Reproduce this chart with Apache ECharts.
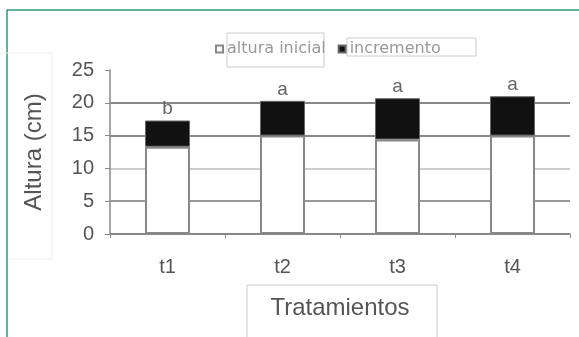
<!DOCTYPE html>
<html><head><meta charset="utf-8">
<script src="https://cdn.jsdelivr.net/npm/echarts@6/dist/echarts.min.js"></script>
<style>html,body{margin:0;padding:0;background:#fff}#c{width:579px;height:337px}</style>
</head><body><div id="c"></div>
<script>
var categories = ['t1', 't2', 't3', 't4'];
var alturaInicial = [13.3, 15.0, 14.4, 15.0];
var incremento = [4.0, 5.3, 6.3, 6.0];
var letras = ['b', 'a', 'a', 'a'];
var seriesNames = ['altura inicial', 'incremento'];
var yTicks = [0, 5, 10, 15, 20, 25];

var chart = echarts.init(document.getElementById('c'));
var font = 'Liberation Sans, Arial, sans-serif';
chart.setOption({
  animation: false,
  backgroundColor: '#fff',
  grid: { left: 110, right: 9, top: 70, bottom: 103 },
  legend: {
    left: 210, top: 36, itemWidth: 7, itemHeight: 7, itemGap: 12,
    icon: 'rect',
    textStyle: { fontFamily: 'DejaVu Sans, sans-serif', fontSize: 16, color: '#999', padding: [0,0,0,-1] },
    data: seriesNames
  },
  xAxis: {
    type: 'category', data: categories,
    axisLine: { lineStyle: { color: '#888', width: 1.5 } },
    axisTick: { show: true, length: 4, lineStyle: { color: '#888' } },
    axisLabel: { fontFamily: font, fontSize: 20, color: '#555', margin: 23 },
    name: 'Tratamientos', nameLocation: 'middle', nameGap: 62,
    nameTextStyle: { fontFamily: font, fontSize: 24, color: '#555' }
  },
  yAxis: {
    type: 'value', min: yTicks[0], max: yTicks[yTicks.length - 1], interval: 5,
    axisLine: { show: true, lineStyle: { color: '#888', width: 1.5 } },
    axisTick: { show: true, length: 5, lineStyle: { color: '#888' } },
    axisLabel: { fontFamily: font, fontSize: 20, color: '#555', margin: 16 },
    splitLine: { show: true, lineStyle: { color: ['#888', '#999', '#ccc', '#888', '#888', 'rgba(0,0,0,0)'], width: 2 } },
    name: 'Altura (cm)', nameLocation: 'middle', nameGap: 64, nameRotate: 90,
    nameTextStyle: { fontFamily: font, fontSize: 24, color: '#555' }
  },
  series: [
    {
      name: seriesNames[0], type: 'bar', stack: 'h', barWidth: 45, data: alturaInicial,
      itemStyle: { color: '#fff', borderColor: '#888', borderWidth: 2 }
    },
    {
      name: seriesNames[1], type: 'bar', stack: 'h', barWidth: 45, data: incremento,
      itemStyle: { color: '#111', borderColor: '#666', borderWidth: 1 },
      label: {
        show: true, position: 'top', distance: 2,
        fontFamily: font, fontSize: 19, color: '#666',
        formatter: function (p) { return letras[p.dataIndex]; }
      }
    }
  ],
  graphic: [
    { type: 'rect', shape: { x: 7, y: 10, width: 640, height: 400 }, style: { fill: 'none', stroke: '#2e9a7a', lineWidth: 1.5 }, silent: true },
    { type: 'rect', shape: { x: 227, y: 33, width: 97, height: 34 }, style: { fill: 'none', stroke: '#ccc', lineWidth: 1 }, silent: true },
    { type: 'rect', shape: { x: 347, y: 38, width: 129, height: 18 }, style: { fill: 'none', stroke: '#ccc', lineWidth: 1 }, silent: true },
    { type: 'rect', shape: { x: 247, y: 285, width: 190, height: 80 }, style: { fill: 'none', stroke: '#ccc', lineWidth: 1 }, silent: true },
    { type: 'polyline', shape: { points: [[0, 53], [52, 53], [52, 259], [8, 259]] }, style: { fill: 'none', stroke: '#eee', lineWidth: 1 }, silent: true }
  ]
});
</script></body></html>
